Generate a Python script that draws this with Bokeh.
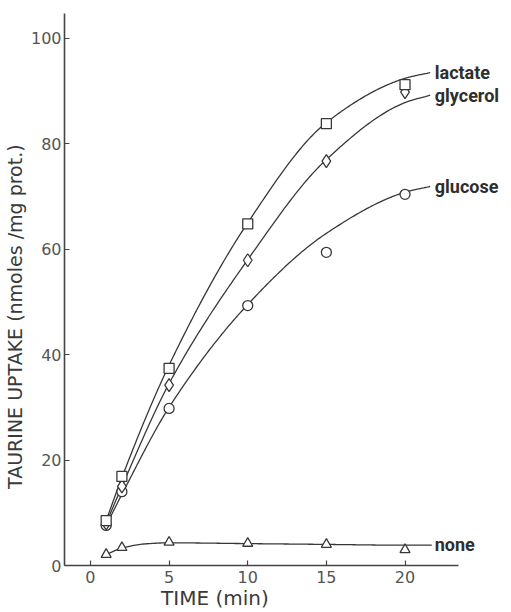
import numpy as np
from bokeh.plotting import figure
from bokeh.models import Range1d, FixedTicker, ColumnDataSource
from bokeh.core.properties import value
from bokeh.embed import file_html
from bokeh.resources import INLINE

# ---- data ----
time_min = [1, 2, 5, 10, 15, 20]
lactate = [8.5, 16.9, 37.4, 64.8, 83.8, 91.2]
glycerol = [8.0, 15.0, 34.2, 57.9, 76.7, 89.8]
glucose = [7.6, 14.0, 29.8, 49.3, 59.4, 70.4]
none = [2.1, 3.4, 4.4, 4.2, 4.0, 3.0]

# hand-drawn fitted curves (knots)
lactate_curve_t = [1, 2, 5, 10, 15, 20, 21.6]
lactate_curve_y = [8.5, 16.7, 38.0, 65.0, 84.0, 92.4, 93.5]
glycerol_curve_t = [1, 2, 5, 10, 15, 20, 21.6]
glycerol_curve_y = [8.0, 15.0, 34.5, 58.0, 77.0, 87.8, 89.2]
glucose_curve_t = [1, 2, 5, 10, 15, 20, 21.6]
glucose_curve_y = [7.6, 13.5, 30.0, 49.5, 63.0, 70.8, 71.9]
none_curve_t = [1, 2, 3.5, 5, 10, 15, 20, 21.7]
none_curve_y = [2.1, 3.3, 4.1, 4.3, 4.15, 4.0, 3.85, 3.85]

series_labels = ["lactate", "glycerol", "glucose", "none"]
label_y = [93.5, 89.2, 71.9, 4.0]
x_ticks = [0, 5, 10, 15, 20]
y_ticks = [0, 20, 40, 60, 80, 100]
x_title = "TIME (min)"
y_title = "TAURINE UPTAKE (nmoles /mg prot.)"

INK = "#383838"
NBSP = "\u00a0"


def pchip(xk, yk, n=200):
    xk = np.asarray(xk, float)
    yk = np.asarray(yk, float)
    h = np.diff(xk)
    d = np.diff(yk) / h
    m = np.zeros_like(yk)
    m[0], m[-1] = d[0], d[-1]
    for k in range(1, len(xk) - 1):
        if d[k - 1] * d[k] <= 0:
            m[k] = 0.0
        else:
            w1 = 2 * h[k] + h[k - 1]
            w2 = h[k] + 2 * h[k - 1]
            m[k] = (w1 + w2) / (w1 / d[k - 1] + w2 / d[k])
    xs = np.linspace(xk[0], xk[-1], n)
    idx = np.clip(np.searchsorted(xk, xs) - 1, 0, len(xk) - 2)
    t = (xs - xk[idx]) / h[idx]
    h00 = 2 * t**3 - 3 * t**2 + 1
    h10 = t**3 - 2 * t**2 + t
    h01 = -2 * t**3 + 3 * t**2
    h11 = t**3 - t**2
    ys = h00 * yk[idx] + h10 * h[idx] * m[idx] + h01 * yk[idx + 1] + h11 * h[idx] * m[idx + 1]
    return xs, ys


p = figure(width=511, height=612, output_backend="svg", toolbar_location=None,
           x_range=Range1d(-1.65, 26.77), y_range=Range1d(0, 104.7),
           min_border_left=62, min_border_right=0, min_border_top=13, min_border_bottom=47)
p.outline_line_color = None
p.grid.visible = False
p.background_fill_color = "white"

for ct, cy in [(lactate_curve_t, lactate_curve_y), (glycerol_curve_t, glycerol_curve_y),
               (glucose_curve_t, glucose_curve_y), (none_curve_t, none_curve_y)]:
    xs, ys = pchip(ct, cy)
    p.line(xs, ys, line_color=INK, line_width=1.3)

src = ColumnDataSource(dict(t=time_min, lactate=lactate, glycerol=glycerol,
                            glucose=glucose, none=none))
p.scatter("t", "glucose", source=src, marker="circle", size=10, fill_color="white",
          line_color=INK, line_width=1.3)
p.scatter("t", "glycerol", source=src, marker="diamond", size=13, fill_color="white",
          line_color=INK, line_width=1.3)
p.scatter("t", "lactate", source=src, marker="square", size=10, fill_color="white",
          line_color=INK, line_width=1.3)
p.scatter("t", "none", source=src, marker="triangle", size=10, fill_color="white",
          line_color=INK, line_width=1.3)

p.text(x=[21.7] * 4, y=label_y, text=series_labels, text_font=value("Roboto"),
       text_font_style="bold", text_font_size="18px", text_color="#2e2e2e",
       text_baseline="middle", text_align="left", x_offset=3)

# axes
for ax in (p.xaxis[0], p.yaxis[0]):
    ax.axis_line_color = "#444444"
    ax.axis_line_width = 1.6
    ax.major_tick_line_color = "#444444"
    ax.major_tick_line_width = 1.2
    ax.major_tick_in = 5
    ax.major_tick_out = 0
    ax.minor_tick_line_color = None
    ax.major_label_text_font = "DejaVu Sans"
    ax.major_label_text_font_size = "16px"
    ax.major_label_text_color = "#555555"
    ax.axis_label_text_font = "DejaVu Sans"
    ax.axis_label_text_font_style = "normal"
    ax.axis_label_text_color = "#3a3a3a"

p.xaxis.ticker = FixedTicker(ticks=x_ticks)
p.yaxis.ticker = FixedTicker(ticks=y_ticks)
p.xaxis.bounds = (-1.65, 23.4)
# trailing non-breaking spaces shift the centred titles to where the reference has them
p.xaxis.axis_label = x_title + NBSP * 23
p.yaxis.axis_label = y_title + NBSP * 9
p.xaxis.axis_label_text_font_size = "20px"
p.yaxis.axis_label_text_font_size = "19px"
p.xaxis.major_label_standoff = 5
p.xaxis.axis_label_standoff = 0
p.yaxis.major_label_standoff = 3
p.yaxis.axis_label_standoff = 2

open("out.html", "w").write(file_html(p, INLINE))
